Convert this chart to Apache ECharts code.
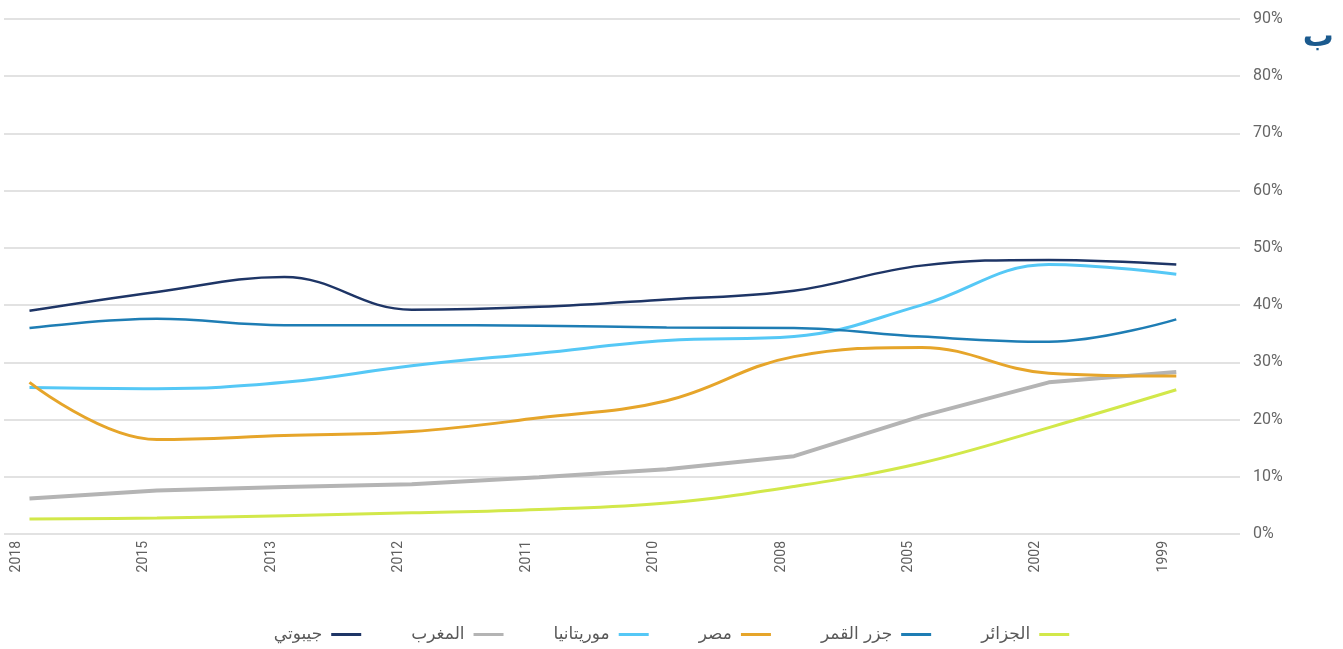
<!DOCTYPE html>
<html>
<head>
<meta charset="utf-8">
<script src="https://cdn.jsdelivr.net/npm/echarts@6/dist/echarts.min.js"></script>
<style>
  html, body { margin: 0; padding: 0; background: #fff; }
  #chart { width: 1343px; height: 649px; }
</style>
</head>
<body>
<div id="chart"></div>
<script>
// Years, oldest on the right
const years = ['2018', '2015', '2013', '2012', '2011', '2010', '2008', '2005', '2002', '1999'];

// Shares in percent per country
const djibouti   = [39.0, 42.3, 44.9, 39.2, 39.7, 41.0, 42.5, 46.9, 47.9, 47.1];
const morocco    = [6.2, 7.6, 8.2, 8.7, 9.9, 11.3, 13.6, 20.6, 26.5, 28.3];
const mauritania = [25.6, 25.4, 26.5, 29.4, 31.6, 33.8, 34.5, 40.0, 47.1, 45.4];
const egypt      = [26.5, 16.5, 17.2, 17.9, 20.3, 23.3, 31.0, 32.6, 28.1, 27.6];
const comoros    = [36.0, 37.6, 36.5, 36.5, 36.4, 36.1, 36.0, 34.5, 33.6, 37.5];
const algeria    = [2.6, 2.8, 3.2, 3.7, 4.3, 5.4, 8.3, 12.4, 18.6, 25.2];

const yTicks = [0, 10, 20, 30, 40, 50, 60, 70, 80, 90];

const pairs = arr => arr.map((v, i) => [i, v]);

const series = [
  { name: 'جيبوتي',    data: djibouti,   color: '#1e3566', width: 2.5, smooth: 0.4 },
  { name: 'المغرب',    data: morocco,    color: '#b4b4b4', width: 4,   smooth: false },
  { name: 'موريتانيا', data: mauritania, color: '#55c8f6', width: 3,   smooth: 0.4 },
  { name: 'مصر',       data: egypt,      color: '#e6a52a', width: 3,   smooth: 0.4 },
  { name: 'جزر القمر', data: comoros,    color: '#1e7db4', width: 2.5, smooth: 0.4 },
  { name: 'الجزائر',   data: algeria,    color: '#d2e84a', width: 3,   smooth: 0.4 }
];

const chart = echarts.init(document.getElementById('chart'), null, { renderer: 'canvas' });

chart.setOption({
  backgroundColor: '#ffffff',
  animation: false,
  title: {
    text: 'ب',
    right: 4,
    top: 17,
    textStyle: { color: '#1b5a8e', fontSize: 31, fontWeight: 'bold', fontFamily: 'DejaVu Sans' }
  },
  legend: {
    top: 621,
    left: 'center',
    align: 'right',
    icon: 'rect',
    itemWidth: 30,
    itemHeight: 3,
    itemGap: 50,
    data: series.map(s => s.name),
    textStyle: { color: '#595959', fontSize: 17, fontFamily: 'DejaVu Sans', padding: [0, 4, 0, 0] }
  },
  grid: { left: 4, right: 103, top: 19, bottom: 115, containLabel: false },
  xAxis: {
    type: 'value',
    min: -0.2,
    max: 9.5,
    axisLine: { show: false },
    axisTick: { show: false },
    splitLine: { show: false },
    axisLabel: {
      customValues: years.map((y, i) => i),
      formatter: v => years[Math.round(v)],
      rotate: 90,
      margin: 7,
      verticalAlign: 'bottom',
      lineHeight: 26,
      color: '#5f5f5f',
      fontSize: 14,
      fontFamily: 'Roboto'
    }
  },
  yAxis: {
    type: 'value',
    position: 'right',
    min: yTicks[0],
    max: yTicks[yTicks.length - 1],
    interval: 10,
    axisLine: { show: false },
    axisTick: { show: false },
    splitLine: { lineStyle: { color: '#d9d9d9', width: 1.5 } },
    axisLabel: {
      formatter: '{value}%',
      margin: 13,
      color: '#666666',
      fontSize: 16,
      fontFamily: 'Roboto'
    }
  },
  series: series.map(s => ({
    name: s.name,
    type: 'line',
    data: pairs(s.data),
    smooth: s.smooth,
    showSymbol: false,
    symbol: 'none',
    color: s.color,
    lineStyle: { color: s.color, width: s.width, cap: 'butt' },
    z: 2
  }))
});
</script>
</body>
</html>
